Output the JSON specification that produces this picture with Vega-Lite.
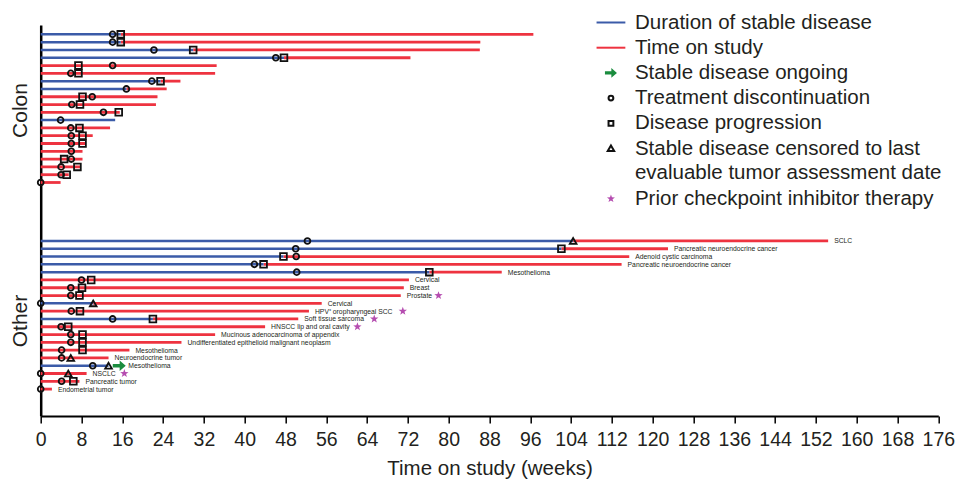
{
  "$schema": "https://vega.github.io/schema/vega-lite/v6.json",
  "width": 897.6,
  "height": 391,
  "autosize": {"type": "none"},
  "padding": {"left": 40.7, "top": 25, "right": 20.7, "bottom": 64},
  "config": {"view": {"stroke": null}, "font": "Liberation Sans"},
  "datasets": {
    "pts": [
      {"grp": "Colon", "row": 1, "sd": 15.7, "end": 96.6},
      {"grp": "Colon", "row": 2, "sd": 15.7, "end": 86.2},
      {"grp": "Colon", "row": 3, "sd": 29.9, "end": 86.1},
      {"grp": "Colon", "row": 4, "sd": 47.7, "end": 72.5},
      {"grp": "Colon", "row": 5, "sd": 0, "end": 34.5},
      {"grp": "Colon", "row": 6, "sd": 0, "end": 34.2},
      {"grp": "Colon", "row": 7, "sd": 23.5, "end": 27.4},
      {"grp": "Colon", "row": 8, "sd": 16.8, "end": 24.7},
      {"grp": "Colon", "row": 9, "sd": 0, "end": 22.9},
      {"grp": "Colon", "row": 10, "sd": 0, "end": 22.6},
      {"grp": "Colon", "row": 11, "sd": 0, "end": 15.5},
      {"grp": "Colon", "row": 12, "sd": 14.6, "end": 14.6},
      {"grp": "Colon", "row": 13, "sd": 0, "end": 13.6},
      {"grp": "Colon", "row": 14, "sd": 0, "end": 10.2},
      {"grp": "Colon", "row": 15, "sd": 0, "end": 8.8},
      {"grp": "Colon", "row": 16, "sd": 0, "end": 8.2},
      {"grp": "Colon", "row": 17, "sd": 0, "end": 8.2},
      {"grp": "Colon", "row": 18, "sd": 0, "end": 7.8},
      {"grp": "Colon", "row": 19, "sd": 0, "end": 5.5},
      {"grp": "Colon", "row": 20, "sd": 0, "end": 3.9},
      {"grp": "Other", "row": 27.5, "sd": 104.4, "end": 154.4, "lx": 154.4, "lab": "SCLC"},
      {"grp": "Other", "row": 28.5, "sd": 102.1, "end": 123.0, "lx": 123.0, "lab": "Pancreatic neuroendocrine cancer"},
      {"grp": "Other", "row": 29.5, "sd": 47.6, "end": 115.4, "lx": 115.4, "lab": "Adenoid cystic carcinoma"},
      {"grp": "Other", "row": 30.5, "sd": 43.7, "end": 113.9, "lx": 113.9, "lab": "Pancreatic neuroendocrine cancer"},
      {"grp": "Other", "row": 31.5, "sd": 76.2, "end": 90.4, "lx": 90.4, "lab": "Mesothelioma"},
      {"grp": "Other", "row": 32.5, "sd": 0, "end": 72.2, "lx": 72.2, "lab": "Cervical"},
      {"grp": "Other", "row": 33.5, "sd": 0, "end": 71.2, "lx": 71.2, "lab": "Breast"},
      {"grp": "Other", "row": 34.5, "sd": 0, "end": 70.6, "lx": 70.6, "lab": "Prostate"},
      {"grp": "Other", "row": 35.5, "sd": 10.3, "end": 55.1, "lx": 55.1, "lab": "Cervical"},
      {"grp": "Other", "row": 36.5, "sd": 0, "end": 52.6, "lx": 52.6, "lab": "HPV⁺ oropharyngeal SCC"},
      {"grp": "Other", "row": 37.5, "sd": 22.0, "end": 50.5, "lx": 50.5, "lab": "Soft tissue sarcoma"},
      {"grp": "Other", "row": 38.5, "sd": 0, "end": 44.0, "lx": 44.0, "lab": "HNSCC lip and oral cavity"},
      {"grp": "Other", "row": 39.5, "sd": 0, "end": 34.2, "lx": 34.2, "lab": "Mucinous adenocarcinoma of appendix"},
      {"grp": "Other", "row": 40.5, "sd": 0, "end": 27.6, "lx": 27.6, "lab": "Undifferentiated epithelioid malignant neoplasm"},
      {"grp": "Other", "row": 41.5, "sd": 0, "end": 17.4, "lx": 17.4, "lab": "Mesothelioma"},
      {"grp": "Other", "row": 42.5, "sd": 0, "end": 13.3, "lx": 13.3, "lab": "Neuroendocrine tumor"},
      {"grp": "Other", "row": 43.5, "sd": 13.3, "end": 13.3, "lx": 16.0, "lab": "Mesothelioma"},
      {"grp": "Other", "row": 44.5, "sd": 0, "end": 9.0, "lx": 9.0, "lab": "NSCLC"},
      {"grp": "Other", "row": 45.5, "sd": 0, "end": 7.6, "lx": 7.6, "lab": "Pancreatic tumor"},
      {"grp": "Other", "row": 46.5, "sd": 0, "end": 2.2, "lx": 2.2, "lab": "Endometrial tumor"}
    ],
    "ev": [
      {"row": 1, "wk": 14.1, "t": "disc"}, {"row": 1, "wk": 15.7, "t": "prog"},
      {"row": 2, "wk": 14.1, "t": "disc"}, {"row": 2, "wk": 15.7, "t": "prog"},
      {"row": 3, "wk": 22.2, "t": "disc"}, {"row": 3, "wk": 29.9, "t": "prog"},
      {"row": 4, "wk": 46.1, "t": "disc"}, {"row": 4, "wk": 47.7, "t": "prog"},
      {"row": 5, "wk": 7.4, "t": "prog"}, {"row": 5, "wk": 14.1, "t": "disc"},
      {"row": 6, "wk": 5.9, "t": "disc"}, {"row": 6, "wk": 7.4, "t": "prog"},
      {"row": 7, "wk": 21.8, "t": "disc"}, {"row": 7, "wk": 23.5, "t": "prog"},
      {"row": 8, "wk": 16.8, "t": "disc"},
      {"row": 9, "wk": 8.2, "t": "prog"}, {"row": 9, "wk": 10.1, "t": "disc"},
      {"row": 10, "wk": 6.1, "t": "disc"}, {"row": 10, "wk": 7.7, "t": "prog"},
      {"row": 11, "wk": 12.3, "t": "disc"}, {"row": 11, "wk": 15.3, "t": "prog"},
      {"row": 12, "wk": 3.9, "t": "disc"},
      {"row": 13, "wk": 5.9, "t": "disc"}, {"row": 13, "wk": 7.6, "t": "prog"},
      {"row": 14, "wk": 6.0, "t": "disc"}, {"row": 14, "wk": 8.2, "t": "prog"},
      {"row": 15, "wk": 6.0, "t": "disc"}, {"row": 15, "wk": 8.2, "t": "prog"},
      {"row": 16, "wk": 6.0, "t": "disc"},
      {"row": 17, "wk": 4.6, "t": "prog"}, {"row": 17, "wk": 6.0, "t": "disc"},
      {"row": 18, "wk": 4.0, "t": "disc"}, {"row": 18, "wk": 7.2, "t": "prog"},
      {"row": 19, "wk": 4.0, "t": "disc"}, {"row": 19, "wk": 5.1, "t": "prog"},
      {"row": 20, "wk": 0, "t": "disc"},
      {"row": 27.5, "wk": 52.3, "t": "disc"}, {"row": 27.5, "wk": 104.4, "t": "cens"},
      {"row": 28.5, "wk": 50.0, "t": "disc"}, {"row": 28.5, "wk": 102.1, "t": "prog"},
      {"row": 29.5, "wk": 47.6, "t": "prog"}, {"row": 29.5, "wk": 50.1, "t": "disc"},
      {"row": 30.5, "wk": 41.9, "t": "disc"}, {"row": 30.5, "wk": 43.7, "t": "prog"},
      {"row": 31.5, "wk": 50.2, "t": "disc"}, {"row": 31.5, "wk": 76.2, "t": "prog"},
      {"row": 32.5, "wk": 8.0, "t": "disc"}, {"row": 32.5, "wk": 9.9, "t": "prog"},
      {"row": 33.5, "wk": 5.9, "t": "disc"}, {"row": 33.5, "wk": 8.1, "t": "prog"},
      {"row": 34.5, "wk": 5.9, "t": "disc"}, {"row": 34.5, "wk": 7.6, "t": "prog"}, {"row": 34.5, "wk": 78.0, "t": "cpi"},
      {"row": 35.5, "wk": 0, "t": "disc"}, {"row": 35.5, "wk": 10.3, "t": "cens"},
      {"row": 36.5, "wk": 6.0, "t": "disc"}, {"row": 36.5, "wk": 7.7, "t": "prog"}, {"row": 36.5, "wk": 71.0, "t": "cpi"},
      {"row": 37.5, "wk": 14.1, "t": "disc"}, {"row": 37.5, "wk": 22.0, "t": "prog"}, {"row": 37.5, "wk": 65.4, "t": "cpi"},
      {"row": 38.5, "wk": 4.0, "t": "disc"}, {"row": 38.5, "wk": 5.4, "t": "prog"}, {"row": 38.5, "wk": 62.1, "t": "cpi"},
      {"row": 39.5, "wk": 5.9, "t": "disc"}, {"row": 39.5, "wk": 8.2, "t": "prog"},
      {"row": 40.5, "wk": 5.9, "t": "disc"}, {"row": 40.5, "wk": 8.2, "t": "prog"},
      {"row": 41.5, "wk": 4.1, "t": "disc"}, {"row": 41.5, "wk": 8.2, "t": "prog"},
      {"row": 42.5, "wk": 4.1, "t": "disc"}, {"row": 42.5, "wk": 5.9, "t": "cens"},
      {"row": 43.5, "wk": 10.2, "t": "disc"}, {"row": 43.5, "wk": 13.3, "t": "cens"}, {"row": 43.5, "wk": 15.4, "t": "ongo"},
      {"row": 44.5, "wk": 0, "t": "disc"}, {"row": 44.5, "wk": 5.4, "t": "cens"}, {"row": 44.5, "wk": 16.4, "t": "cpi"},
      {"row": 45.5, "wk": 4.1, "t": "disc"}, {"row": 45.5, "wk": 6.4, "t": "prog"},
      {"row": 46.5, "wk": 0, "t": "disc"}
    ]
  },
  "layer": [
    {
      "data": {"name": "pts"},
      "transform": [{"filter": "datum.end > datum.sd"}, {"calculate": "'tos'", "as": "k"}],
      "mark": {"type": "rule", "strokeWidth": 2.8},
      "encoding": {
        "x": {
          "field": "sd", "type": "quantitative",
          "scale": {"domain": [0, 176], "nice": false, "zero": false},
          "axis": {
            "values": [0, 8, 16, 24, 32, 40, 48, 56, 64, 72, 80, 88, 96, 104, 112, 120, 128, 136, 144, 152, 160, 168, 176],
            "labelFontSize": 19.5, "labelColor": "#231f20", "labelFont": "Liberation Sans",
            "tickSize": 7, "tickWidth": 1.5, "tickColor": "#000",
            "domainColor": "#000", "domainWidth": 2,
            "labelPadding": 7, "grid": false, "labelFlush": false, "labelOverlap": false,
            "titleFontSize": 20.5, "titleFontWeight": "normal", "titleColor": "#231f20", "titleFont": "Liberation Sans", "titlePadding": 10
          },
          "title": "Time on study (weeks)"
        },
        "x2": {"field": "end"},
        "y": {
          "field": "row", "type": "quantitative",
          "scale": {"domain": [-0.2, 49.95], "reverse": true, "nice": false, "zero": false},
          "axis": {
            "values": [10.7, 37.7],
            "labelExpr": "datum.value < 20 ? 'Colon' : 'Other'",
            "labelAngle": 270, "labelAlign": "center", "labelBaseline": "bottom",
            "labelFontSize": 21, "labelColor": "#231f20", "labelFont": "Liberation Sans",
            "labelPadding": 10, "ticks": false, "tickSize": 0,
            "domainColor": "#000", "domainWidth": 2.5, "grid": false
          },
          "title": null
        },
        "color": {
          "field": "k", "type": "nominal",
          "scale": {
            "domain": ["sd", "tos", "ongo", "disc", "prog", "cens", "cpi"],
            "range": ["#3b5ba8", "#ee3340", "#1a8c3e", "#111111", "#111111", "#111111", "#b54db0"]
          },
          "legend": {
            "title": null, "orient": "none", "legendX": 560, "legendY": -12.75, "padding": 0,
            "symbolSize": 64, "symbolStrokeWidth": 2, "symbolOffset": 0, "labelOffset": 13.75,
            "labelFont": "Liberation Sans", "labelFontSize": 20.5, "labelColor": "#231f20", "labelLimit": 600,
            "rowPadding": 4.2,
            "labelExpr": "[['Duration of stable disease'], ['Time on study'], ['Stable disease ongoing'], ['Treatment discontinuation'], ['Disease progression'], ['Stable disease censored to last', 'evaluable tumor assessment date'], ['Prior checkpoint inhibitor therapy']][datum.index]",
            "encode": {
              "symbols": {
                "update": {
                  "shape": {"signal": "['M-3.6,0L3.6,0', 'M-3.6,0L3.6,0', 'M-1.5,-0.4L0.1,-0.4L0.1,-1.2L1.5,0L0.1,1.2L0.1,0.4L-1.5,0.4Z', 'M-0.6,0A0.6,0.6,0,1,0,0.6,0A0.6,0.6,0,1,0,-0.6,0Z', 'M-0.6,-0.6L0.6,-0.6L0.6,0.6L-0.6,0.6Z', 'M0,-0.75L0.8,0.6L-0.8,0.6Z', 'M0,-1.05L0.25,-0.34L1,-0.32L0.4,0.13L0.62,0.85L0,0.42L-0.62,0.85L-0.4,0.13L-1,-0.32L-0.25,-0.34Z'][datum.index]"},
                  "fill": {"signal": "datum.index == 2 ? '#1a8c3e' : datum.index == 6 ? '#b54db0' : 'transparent'"},
                  "fillOpacity": {"signal": "datum.index == 2 || datum.index == 6 ? 1 : 0"},
                  "stroke": {"signal": "['#3b5ba8', '#ee3340', 'transparent', '#111111', '#111111', '#111111', 'transparent'][datum.index]"},
                  "strokeOpacity": {"signal": "datum.index == 2 || datum.index == 6 ? 0 : 1"},
                  "opacity": {"value": 1}
                }
              },
              "labels": {"update": {"lineHeight": {"value": 24.7}}}
            }
          }
        }
      }
    },
    {
      "data": {"name": "pts"},
      "transform": [{"filter": "datum.sd > 0"}, {"calculate": "'sd'", "as": "k"}, {"calculate": "0", "as": "start"}],
      "mark": {"type": "rule", "strokeWidth": 2.5},
      "encoding": {
        "x": {"field": "start", "type": "quantitative", "title": "Time on study (weeks)"},
        "x2": {"field": "sd"},
        "y": {"field": "row", "type": "quantitative", "title": null},
        "color": {"field": "k", "type": "nominal"}
      }
    },
    {
      "data": {"name": "ev"},
      "transform": [{"filter": "datum.t == 'disc'"}],
      "mark": {"type": "point", "shape": "circle", "filled": false, "size": 34, "strokeWidth": 1.8, "opacity": 1},
      "encoding": {
        "x": {"field": "wk", "type": "quantitative", "title": "Time on study (weeks)"},
        "y": {"field": "row", "type": "quantitative", "title": null},
        "color": {"field": "t", "type": "nominal"}
      }
    },
    {
      "data": {"name": "ev"},
      "transform": [{"filter": "datum.t == 'prog'"}],
      "mark": {"type": "point", "shape": "square", "filled": false, "size": 45, "strokeWidth": 1.8, "opacity": 1},
      "encoding": {
        "x": {"field": "wk", "type": "quantitative", "title": "Time on study (weeks)"},
        "y": {"field": "row", "type": "quantitative", "title": null},
        "color": {"field": "t", "type": "nominal"}
      }
    },
    {
      "data": {"name": "ev"},
      "transform": [{"filter": "datum.t == 'cens'"}],
      "mark": {"type": "point", "shape": "triangle-up", "filled": false, "size": 45, "strokeWidth": 1.8, "opacity": 1},
      "encoding": {
        "x": {"field": "wk", "type": "quantitative", "title": "Time on study (weeks)"},
        "y": {"field": "row", "type": "quantitative", "title": null},
        "color": {"field": "t", "type": "nominal"}
      }
    },
    {
      "data": {"name": "ev"},
      "transform": [{"filter": "datum.t == 'ongo'"}],
      "mark": {"type": "point", "shape": "M-1.5,-0.4L0.1,-0.4L0.1,-1.2L1.5,0L0.1,1.2L0.1,0.4L-1.5,0.4Z", "filled": true, "size": 75, "strokeWidth": 0, "opacity": 1},
      "encoding": {
        "x": {"field": "wk", "type": "quantitative", "title": "Time on study (weeks)"},
        "y": {"field": "row", "type": "quantitative", "title": null},
        "color": {"field": "t", "type": "nominal"}
      }
    },
    {
      "data": {"name": "ev"},
      "transform": [{"filter": "datum.t == 'cpi'"}],
      "mark": {"type": "point", "shape": "M0,-1.05L0.25,-0.34L1,-0.32L0.4,0.13L0.62,0.85L0,0.42L-0.62,0.85L-0.4,0.13L-1,-0.32L-0.25,-0.34Z", "filled": true, "size": 70, "strokeWidth": 0, "opacity": 1},
      "encoding": {
        "x": {"field": "wk", "type": "quantitative", "title": "Time on study (weeks)"},
        "y": {"field": "row", "type": "quantitative", "title": null},
        "color": {"field": "t", "type": "nominal"}
      }
    },
    {
      "data": {"name": "pts"},
      "transform": [{"filter": "datum.lab != null"}],
      "mark": {"type": "text", "align": "left", "baseline": "middle", "dx": 6, "dy": 0.5, "fontSize": 6.8, "font": "Liberation Sans", "color": "#231f20"},
      "encoding": {
        "x": {"field": "lx", "type": "quantitative", "title": "Time on study (weeks)"},
        "y": {"field": "row", "type": "quantitative", "title": null},
        "text": {"field": "lab"}
      }
    }
  ]
}
